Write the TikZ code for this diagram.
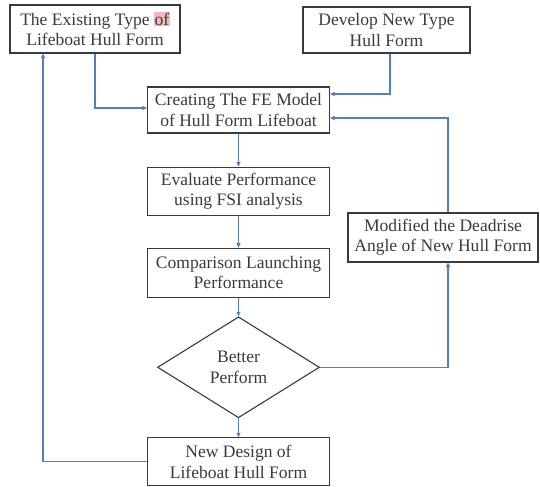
\documentclass[tikz,border=0pt]{standalone}
\usepackage{fontspec}
\setmainfont{Liberation Serif}
\usetikzlibrary{positioning, shapes.geometric, arrows.meta}
\definecolor{fcink}{HTML}{3A3A3A}
\definecolor{fcblue}{HTML}{4F81BD}
\definecolor{fcmark}{HTML}{F4B8B8}
\newcommand{\hlword}[1]{{\setlength{\fboxsep}{0.6pt}\colorbox{fcmark}{#1}}}

\begin{document}
\begin{tikzpicture}[
  x=1bp, y=-1bp,
  box/.style={draw=fcink, line width=1.1bp, align=center, inner sep=0pt, minimum width=182bp, minimum height=48bp, text=fcink, font=\fontsize{17.6}{20.5}\selectfont},
  decide/.style={diamond, draw=fcink, line width=1.1bp, align=center, aspect=1.6, inner sep=0pt, minimum width=162bp, minimum height=101bp, text=fcink, font=\fontsize{17.6}{20.5}\selectfont},
  arr/.style={-{Triangle[length=4.5bp,width=4bp]}, line width=1.1bp, fcblue}
]
  \useasboundingbox (0,0) rectangle (540,487);

  \node[box, minimum height=46bp] (cr) at (238.5,110) {Creating The FE Model\\of Hull Form Lifeboat};
  \node[box, below=33bp of cr] (ev) {Evaluate Performance\\using FSI analysis};
  \node[box, minimum height=49bp, below=32bp of ev] (cmp) {Comparison Launching\\Performance};
  \node[decide, below=18.5bp of cmp] (dm) {Better\\Perform};
  \node[box, below=19bp of dm] (nd) {New Design of\\Lifeboat Hull Form};
  \node[box, minimum width=170bp] (ex) at (95,29) {The Existing Type \hlword{of}\\Lifeboat Hull Form};
  \node[box, minimum width=167bp, minimum height=46bp] (dev) at (386.5,30) {Develop New Type\\Hull Form};
  \node[box, minimum width=190bp, minimum height=49bp] (mod) at (443,237.5) {Modified the Deadrise\\Angle of New Hull Form};

  \draw[arr] (ex) |- ([yshift=2bp]cr.west);
  \draw[arr] ([xshift=3.5bp]dev.south) |- ([yshift=16bp]cr.east);
  \draw[arr] ([xshift=5bp]mod.north) |- ([yshift=-8bp]cr.east);
  \draw[arr] (cr) -- (ev);
  \draw[arr] (ev) -- (cmp);
  \draw[arr] (cmp) -- (dm);
  \draw[arr] (dm) -- (nd);
  \draw[arr] (dm.east) -| ([xshift=5bp]mod.south);
  \draw[arr] (nd.west) -| ([xshift=-52bp]ex.south);
\end{tikzpicture}
\end{document}
